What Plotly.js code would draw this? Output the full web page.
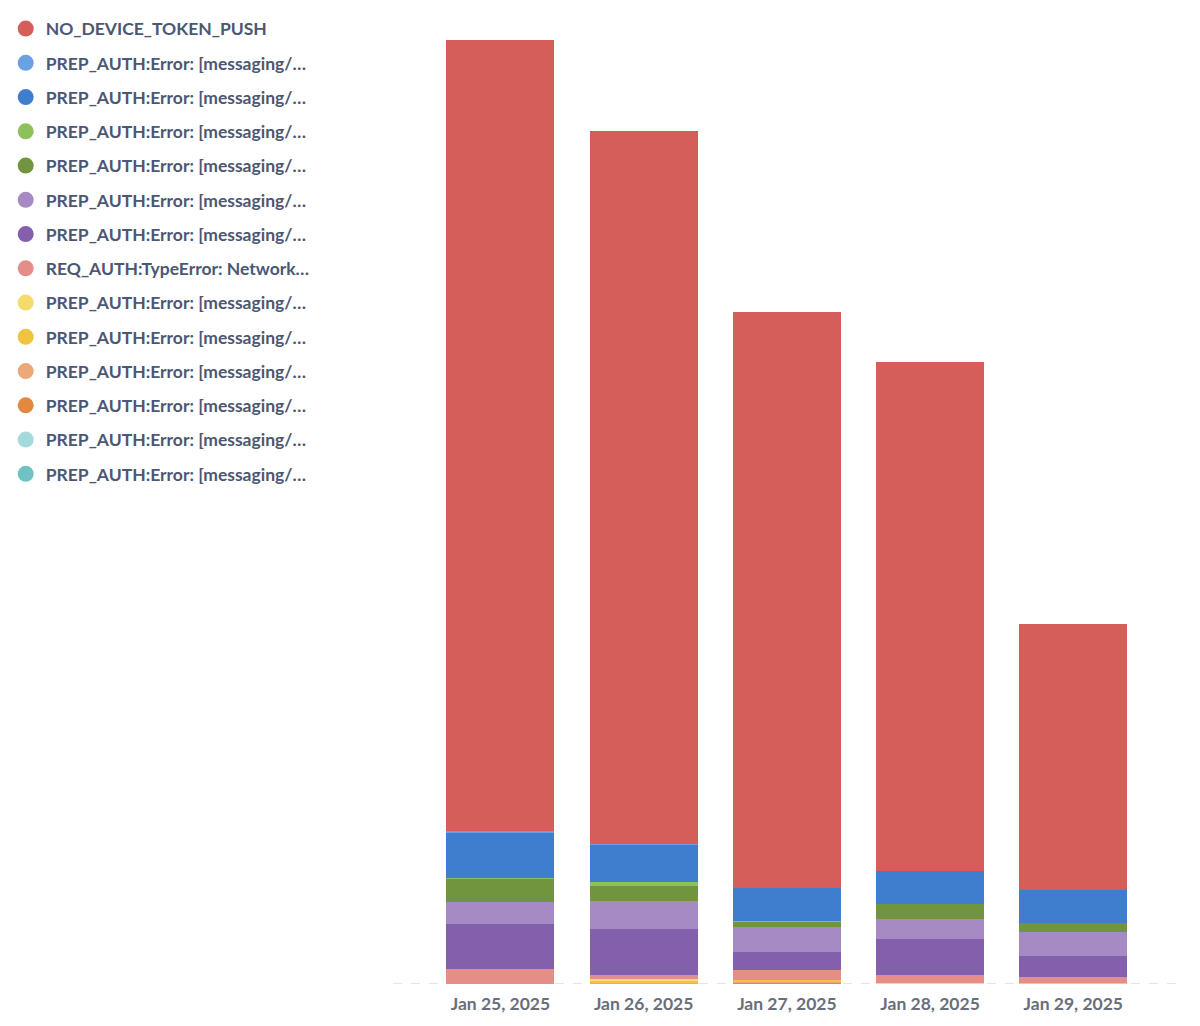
<!DOCTYPE html>
<html>
<head>
<meta charset="utf-8">
<script src="https://cdn.plot.ly/plotly-3.0.1.min.js"></script>
<style>
  html, body { margin: 0; padding: 0; background: #fff; }
  #chart { width: 1200px; height: 1026px; }
</style>
</head>
<body>
<div id="chart"></div>
<script>
// days on the x axis
const days = ['Jan 25, 2025', 'Jan 26, 2025', 'Jan 27, 2025', 'Jan 28, 2025', 'Jan 29, 2025'];

// one array per error type, legend order (top of stack first)
const noDeviceTokenPush = [791, 713, 576, 509, 266];
const prepAuthLightBlue = [2, 0.5, 0, 0, 0];
const prepAuthBlue      = [45, 37, 33, 33, 33];
const prepAuthLightGreen = [1, 4.5, 1.3, 0, 0];
const prepAuthGreen     = [23, 15, 4.7, 15, 9];
const prepAuthLightPurple = [22, 28, 25, 20.6, 24];
const prepAuthPurple    = [45, 46, 18, 35.7, 20.7];
const reqAuthNetwork    = [15, 4.3, 10, 8.3, 6];
const prepAuthLightYellow = [0, 1, 0, 0.7, 0];
const prepAuthYellow    = [0, 3, 2, 0, 0];
const prepAuthLightOrange = [0, 0.7, 1, 0, 0];
const prepAuthOrange    = [0, 0, 1, 0, 0];
const prepAuthLightTeal = [0, 0, 0, 0, 1.3];
const prepAuthTeal      = [0, 0, 0.5, 0, 0];

const prep = 'PREP_AUTH:Error: [messaging/\u2026';
const series = [
  {name: 'NO_DEVICE_TOKEN_PUSH', y: noDeviceTokenPush, color: '#D65E58'},
  {name: prep, y: prepAuthLightBlue, color: '#6AA1E2'},
  {name: prep, y: prepAuthBlue, color: '#3F7ECE'},
  {name: prep, y: prepAuthLightGreen, color: '#8EC05C'},
  {name: prep, y: prepAuthGreen, color: '#71953F'},
  {name: prep, y: prepAuthLightPurple, color: '#A68AC3'},
  {name: prep, y: prepAuthPurple, color: '#8460AC'},
  {name: 'REQ_AUTH:TypeError: Network\u2026', y: reqAuthNetwork, color: '#E58E89'},
  {name: prep, y: prepAuthLightYellow, color: '#F5DA6C'},
  {name: prep, y: prepAuthYellow, color: '#F0C43F'},
  {name: prep, y: prepAuthLightOrange, color: '#EBA878'},
  {name: prep, y: prepAuthOrange, color: '#E3883F'},
  {name: prep, y: prepAuthLightTeal, color: '#A5DADB'},
  {name: prep, y: prepAuthTeal, color: '#6FC3C4'}
];

var traces = [];
// bars: stacked from the bottom, so last series goes first
for (var i = series.length - 1; i >= 0; i--) {
  traces.push({
    type: 'bar',
    x: days,
    y: series[i].y,
    name: series[i].name,
    legendgroup: 'g' + i,
    showlegend: false,
    marker: {color: series[i].color, line: {width: 0}},
    hoverinfo: 'name+y'
  });
}
// round legend dots
for (var j = 0; j < series.length; j++) {
  traces.push({
    type: 'scatter',
    mode: 'markers',
    x: [null],
    y: [null],
    name: series[j].name,
    legendgroup: 'g' + j,
    marker: {color: series[j].color, size: 16, symbol: 'circle'},
    hoverinfo: 'skip'
  });
}

var layout = {
  width: 1200,
  height: 1026,
  margin: {l: 393, r: 15, t: 40, b: 42, autoexpand: false},
  paper_bgcolor: '#fff',
  plot_bgcolor: '#fff',
  barmode: 'stack',
  bargap: 0.245,
  font: {family: 'Lato, sans-serif'},
  showlegend: true,
  legend: {
    x: -0.489,
    xanchor: 'left',
    y: 1.031,
    yanchor: 'top',
    traceorder: 'grouped',
    tracegroupgap: 8.5,
    itemsizing: 'trace',
    maxheight: 1000,
    font: {family: 'Lato, sans-serif', size: 17.5, color: '#4C5773', weight: 700},
    bgcolor: 'rgba(0,0,0,0)'
  },
  xaxis: {
    type: 'category',
    range: [-0.75, 4.78],
    showgrid: false,
    zeroline: false,
    showline: false,
    ticks: '',
    ticklabelstandoff: 7,
    tickfont: {family: 'Lato, sans-serif', size: 17.5, color: '#696E7B', weight: 700},
    fixedrange: true
  },
  yaxis: {
    visible: false,
    range: [0, 944],
    showgrid: false,
    zeroline: false,
    fixedrange: true
  },
  shapes: [{
    type: 'line',
    xref: 'paper', x0: 0, x1: 1,
    yref: 'y', y0: 0, y1: 0,
    layer: 'below',
    line: {color: '#DADDE2', width: 1.5, dash: 'dash'}
  }]
};

Plotly.newPlot('chart', traces, layout, {displayModeBar: false, responsive: false});
</script>
</body>
</html>
